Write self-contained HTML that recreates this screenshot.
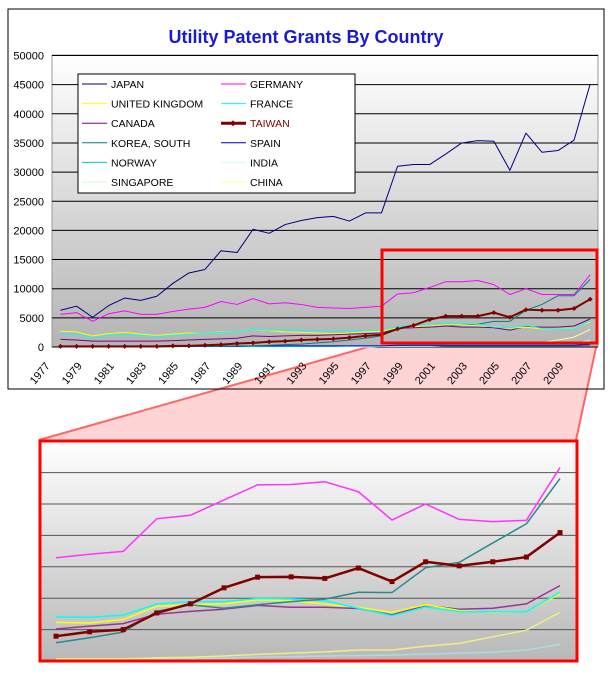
<!DOCTYPE html>
<html><head><meta charset="utf-8"><style>
body{margin:0;background:#fff;width:610px;height:685px;overflow:hidden}
svg text{font-family:"Liberation Sans",sans-serif}
</style></head><body>
<svg width="610" height="685" viewBox="0 0 610 685">
<defs>
<linearGradient id="bg" x1="0" y1="0" x2="0" y2="1"><stop offset="0" stop-color="#ffffff"/><stop offset="1" stop-color="#b4b4b4"/></linearGradient>
<linearGradient id="bg2" x1="0" y1="0" x2="0" y2="1"><stop offset="0" stop-color="#ffffff"/><stop offset="1" stop-color="#b8b8b8"/></linearGradient>
</defs>
<rect x="8" y="9" width="596" height="380" fill="#fff"/>
<polygon points="382,343 597,343 576,440 39,440" fill="#ffcccc" opacity="0.85"/>
<line x1="382" y1="343" x2="39" y2="440" stroke="#ff6666" stroke-width="2"/>
<line x1="597" y1="343" x2="576" y2="440" stroke="#ff6666" stroke-width="2"/>
<rect x="8" y="9" width="596" height="380" fill="none" stroke="#000" stroke-width="1"/>
<text x="306" y="43" text-anchor="middle" font-size="18" font-weight="bold" fill="#1a1ad0">Utility Patent Grants By Country</text>
<rect x="52" y="55" width="546" height="292" fill="url(#bg)" stroke="#999" stroke-width="1"/>
<g id="grid"></g><g id="ylab"></g><g id="xlab"></g><g id="series"></g>
<rect x="382" y="250" width="215" height="93" fill="none" stroke="#ff0000" stroke-width="3"/>
<g>
<rect x="78" y="74" width="277" height="119" fill="#fff" stroke="#000" stroke-width="1"/>
<g id="legend"></g>
</g>
<rect x="40" y="441" width="537" height="220" fill="url(#bg2)"/>
<g id="igrid"></g><g id="iseries"></g>
<rect x="40" y="441" width="537" height="220" fill="none" stroke="#ff0000" stroke-width="3"/>
</svg>
<script>
const years=[1977,1978,1979,1980,1981,1982,1983,1984,1985,1986,1987,1988,1989,1990,1991,1992,1993,1994,1995,1996,1997,1998,1999,2000,2001,2002,2003,2004,2005,2006,2007,2008,2009,2010];
const yTicks=[0,5000,10000,15000,20000,25000,30000,35000,40000,45000,50000];
const japan=[6.3,7.0,5.1,7.1,8.4,8.0,8.7,10.9,12.7,13.3,16.5,16.2,20.2,19.5,21.0,21.7,22.2,22.4,21.6,23.0,23.0,31.0,31.3,31.3,33.1,35.0,35.4,35.3,30.3,36.7,33.4,33.7,35.5,45.1];
const germany=[5.6,5.9,4.4,5.7,6.2,5.6,5.6,6.1,6.5,6.8,7.8,7.3,8.3,7.4,7.6,7.3,6.8,6.7,6.6,6.8,7.0,9.1,9.3,10.2,11.2,11.2,11.4,10.7,9.0,10.0,9.0,9.0,9.0,12.4];
const uk=[2.7,2.6,1.9,2.3,2.5,2.2,2.0,2.2,2.4,2.3,2.6,2.6,3.0,2.8,2.6,2.5,2.4,2.3,2.4,2.6,2.7,3.3,3.5,3.6,3.8,3.8,3.6,3.5,3.2,3.4,3.1,3.2,3.2,4.3];
const france=[2.2,2.2,1.5,2.0,2.2,2.0,1.8,2.0,2.2,2.3,2.5,2.6,3.0,2.9,2.9,2.9,2.8,2.7,2.8,2.8,2.9,3.5,3.7,3.9,4.1,4.0,3.9,3.4,3.3,3.7,3.2,3.1,3.1,4.5];
const canada=[1.3,1.2,1.0,1.0,1.0,1.0,1.0,1.1,1.2,1.3,1.4,1.5,1.9,1.8,1.9,2.0,2.0,2.1,2.2,2.3,2.4,3.2,3.3,3.4,3.6,3.4,3.4,3.3,2.9,3.5,3.4,3.4,3.6,4.8];
const taiwan=[0.1,0.1,0.1,0.1,0.1,0.1,0.1,0.2,0.2,0.3,0.4,0.6,0.7,0.9,1.0,1.2,1.3,1.4,1.6,1.9,2.1,3.1,3.7,4.7,5.3,5.3,5.3,5.9,5.1,6.4,6.3,6.3,6.6,8.2];
const korea=[0,0,0,0,0,0,0,0.05,0.1,0.1,0.1,0.2,0.2,0.3,0.4,0.5,0.7,0.9,1.2,1.5,1.9,3.3,3.6,3.4,3.6,3.8,3.9,4.4,4.4,6.3,7.3,8.8,8.8,11.6];
const spain=[0.1,0.1,0.1,0.1,0.1,0.1,0.1,0.1,0.1,0.1,0.1,0.1,0.2,0.2,0.2,0.2,0.2,0.2,0.2,0.2,0.2,0.3,0.3,0.3,0.3,0.3,0.3,0.3,0.3,0.3,0.3,0.3,0.3,0.4];
const norway=[0.1,0.1,0.1,0.1,0.1,0.1,0.1,0.1,0.1,0.1,0.1,0.1,0.1,0.1,0.1,0.1,0.1,0.1,0.2,0.2,0.2,0.2,0.2,0.2,0.2,0.2,0.2,0.2,0.2,0.2,0.2,0.2,0.2,0.3];
const india=[0,0,0,0,0,0,0,0,0,0,0,0,0,0,0,0,0,0,0,0,0.1,0.1,0.1,0.1,0.2,0.2,0.3,0.4,0.4,0.5,0.5,0.6,0.7,1.1];
const singapore=[0,0,0,0,0,0,0,0,0,0,0,0,0,0,0,0,0,0.1,0.1,0.1,0.1,0.1,0.2,0.2,0.3,0.4,0.4,0.4,0.4,0.4,0.4,0.4,0.4,0.6];
const china=[0,0,0,0,0,0,0,0,0,0,0,0,0,0,0,0,0,0,0,0,0.1,0.1,0.1,0.1,0.2,0.3,0.3,0.4,0.4,0.7,0.8,1.2,1.7,3.0];
const insetPink=[3.29,3.40,3.49,4.53,4.64,5.13,5.61,5.62,5.71,5.39,4.49,5.0,4.51,4.44,4.48,6.16];
const insetKorea=[0.58,0.74,0.92,1.58,1.79,1.68,1.79,1.89,1.97,2.19,2.18,2.97,3.14,3.76,4.37,5.81];
const insetTaiwan=[0.79,0.93,1.0,1.53,1.82,2.33,2.67,2.68,2.63,2.96,2.53,3.16,3.03,3.16,3.31,4.09];
const insetFrance=[1.40,1.39,1.46,1.82,1.89,1.89,1.99,1.98,1.92,1.68,1.44,1.72,1.57,1.57,1.57,2.19];
const insetUK=[1.23,1.21,1.32,1.74,1.79,1.82,1.95,1.92,1.81,1.71,1.55,1.79,1.61,1.55,1.57,2.14];
const insetCanada=[1.02,1.11,1.19,1.49,1.58,1.65,1.77,1.71,1.71,1.67,1.47,1.77,1.65,1.68,1.82,2.40];
const insetChina=[0.07,0.07,0.07,0.10,0.12,0.16,0.21,0.25,0.29,0.35,0.35,0.47,0.56,0.77,0.98,1.55];
const insetIndia=[0.05,0.05,0.05,0.06,0.07,0.09,0.12,0.14,0.16,0.17,0.19,0.22,0.25,0.28,0.35,0.53];
const insetGrid=[1,2,3,4,5,6];

const NS='http://www.w3.org/2000/svg';
function mk(tag,attrs,parent){const e=document.createElementNS(NS,tag);for(const k in attrs)e.setAttribute(k,attrs[k]);parent.appendChild(e);return e;}
const xS=i=>60.5+i*16.05, yS=v=>347-v*5.83;
const G=document.getElementById('grid'),YL=document.getElementById('ylab'),XL=document.getElementById('xlab'),S=document.getElementById('series');
yTicks.forEach(t=>{
  if(t>0){const l=mk('line',{x1:52,x2:598,y1:yS(t/1000),y2:yS(t/1000),stroke:'#000','stroke-width':1},G);
  
  }
  const tx=mk('text',{x:44,y:yS(t/1000)+4,'text-anchor':'end','font-size':11,fill:'#000'},YL);tx.textContent=t;
  
  
});
const ax=mk('line',{x1:52,x2:598,y1:347,y2:347,stroke:'#000','stroke-width':1},G);


years.forEach((y,i)=>{if(i%2)return;const cx=xS(i)-21,cy=373;
  const tx=mk('text',{x:cx,y:cy+4,'text-anchor':'middle','font-size':11,fill:'#000',transform:`rotate(-50 ${cx} ${cy})`},XL);tx.textContent=y;
  
  });
function line(data,color,w,name,xf,yf,par){
  const p=mk('polyline',{points:data.map((v,i)=>xf(i)+','+yf(v)).join(' '),fill:'none',stroke:color,'stroke-width':w,'stroke-linejoin':'round'},par);
  
  
}
const series=[[china,'#ffff99',1,'china'],[singapore,'#ccffcc',1,'singapore'],[india,'#ccffff',1,'india'],[norway,'#00cccc',1,'norway'],[spain,'#0000cc',1,'spain'],[korea,'#008080',1,'korea-south'],[canada,'#800080',1,'canada'],[uk,'#ffff00',1,'united-kingdom'],[france,'#00ffff',1,'france'],[germany,'#ff00ff',1,'germany'],[japan,'#000080',1,'japan']];
series.forEach(s=>line(s[0],s[1],s[2],'series-'+s[3],xS,yS,S));
line(taiwan,'#800000',2,'series-taiwan',xS,yS,S);
taiwan.forEach((v,i)=>{const x=xS(i),y=yS(v);const m=mk('polygon',{points:`${x},${y-2.5} ${x+2.5},${y} ${x},${y+2.5} ${x-2.5},${y}`,fill:'#800000'},S);
  
  });
const legendItems=[['JAPAN','#000080','#000'],['GERMANY','#ff00ff','#000'],['UNITED KINGDOM','#ffff00','#000'],['FRANCE','#00ffff','#000'],['CANADA','#800080','#000'],['TAIWAN','#800000','#800000'],['KOREA, SOUTH','#008080','#000'],['SPAIN','#0000cc','#000'],['NORWAY','#00cccc','#000'],['INDIA','#ccffff','#000'],['SINGAPORE','#ccffcc','#000'],['CHINA','#ffff99','#000']];
const L=document.getElementById('legend');
legendItems.forEach((it,k)=>{const col=k%2,row=Math.floor(k/2);const lx=col?221:82,ty=84+row*19.6;
  const g=mk('g',{},L);
  
  
  const isT=it[0]==='TAIWAN';
  mk('line',{x1:lx,x2:lx+25,y1:ty,y2:ty,stroke:it[1],'stroke-width':isT?3:1},g);
  if(isT)mk('polygon',{points:`${lx+12},${ty-3} ${lx+15},${ty} ${lx+12},${ty+3} ${lx+9},${ty}`,fill:'#800000'},g);
  const t=mk('text',{x:lx+29,y:ty+4,'font-size':10.5,fill:it[2]},g);t.textContent=it[0];});
const ixS=i=>56+i*33.6, iyS=v=>661-v*31.4;
const IG=document.getElementById('igrid'),IS=document.getElementById('iseries');
insetGrid.forEach(g=>{const l=mk('line',{x1:40,x2:577,y1:iyS(g),y2:iyS(g),stroke:'#555','stroke-width':1},IG);
  
  });
[[insetIndia,'#aadddd','inset-india'],[insetChina,'#eeee88','inset-china'],[insetCanada,'#993399','inset-canada'],[insetUK,'#ffff00','inset-uk'],[insetFrance,'#00ffff','inset-france'],[insetKorea,'#2a8a8a','inset-korea'],[insetPink,'#ff33ff','inset-germany']].forEach(s=>line(s[0],s[1],1.5,s[2],ixS,iyS,IS));
line(insetTaiwan,'#800000',2.5,'inset-taiwan',ixS,iyS,IS);
insetTaiwan.forEach((v,i)=>{const m=mk('rect',{x:ixS(i)-2.5,y:iyS(v)-2.5,width:5,height:5,fill:'#800000'},IS);
  
  });
</script>
</body></html>
